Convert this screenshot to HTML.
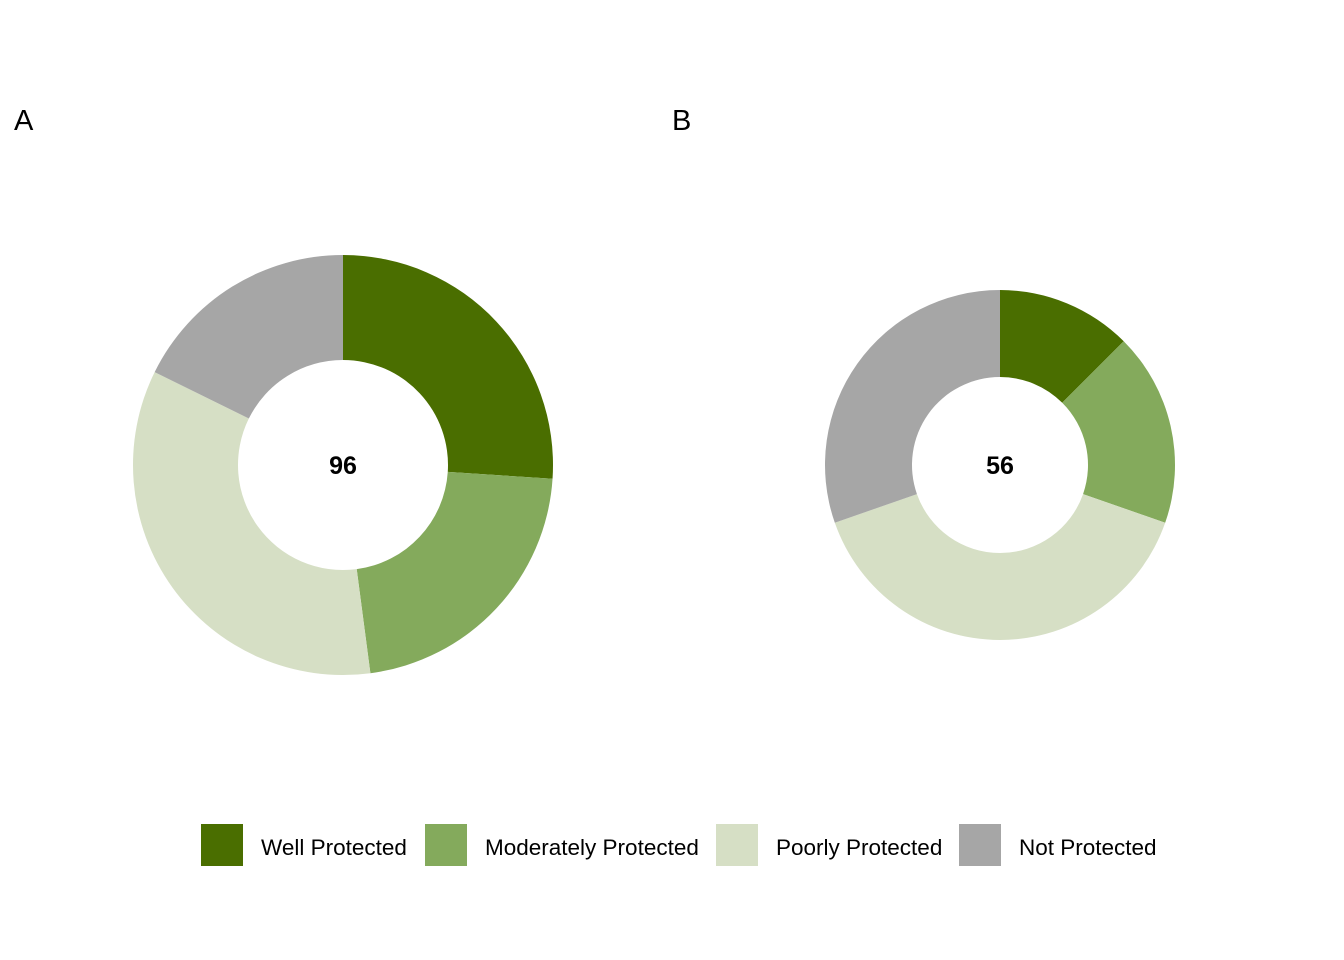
<!DOCTYPE html>
<html><head><meta charset="utf-8"><style>
body{margin:0;background:#fff;}
svg{display:block;font-family:"Liberation Sans",Arial,sans-serif;}
</style></head><body>
<svg id="chart" width="1344" height="960">
<text x="14" y="130" font-size="29">A</text>
<text x="672" y="130" font-size="29">B</text>
<g id="legend"></g>
</svg>
<script>
const categories=["Well Protected","Moderately Protected","Poorly Protected","Not Protected"];
const colors=["#4a6e00","#84aa5c","#d6dfc5","#a6a6a6"];
const valuesA=[25,21,33,17];
const valuesB=[7,10,22,17];
const panels=[{name:"a",vals:valuesA,cx:343,cy:465,ro:210,ri:105},{name:"b",vals:valuesB,cx:1000,cy:465,ro:175,ri:88}];
const svg=document.getElementById('chart');
const NS="http://www.w3.org/2000/svg";
function pt(cx,cy,r,a){return [cx+r*Math.sin(a),cy-r*Math.cos(a)];}
panels.forEach(p=>{
  const total=p.vals.reduce((a,b)=>a+b,0);
  let cum=0;
  p.vals.forEach((v,i)=>{
    const a0=cum/total*2*Math.PI;cum+=v;const a1=cum/total*2*Math.PI;
    const large=(a1-a0)>Math.PI?1:0;
    const [x0,y0]=pt(p.cx,p.cy,p.ro,a0),[x1,y1]=pt(p.cx,p.cy,p.ro,a1);
    const [x2,y2]=pt(p.cx,p.cy,p.ri,a1),[x3,y3]=pt(p.cx,p.cy,p.ri,a0);
    const path=document.createElementNS(NS,'path');
    path.setAttribute('d',`M${x0},${y0}A${p.ro},${p.ro} 0 ${large} 1 ${x1},${y1}L${x2},${y2}A${p.ri},${p.ri} 0 ${large} 0 ${x3},${y3}Z`);
    path.setAttribute('fill',colors[i]);
    
    
    svg.appendChild(path);
  });
  const t=document.createElementNS(NS,'text');
  t.setAttribute('x',p.cx);t.setAttribute('y',p.cy+9);
  t.setAttribute('text-anchor','middle');t.setAttribute('font-size','25');t.setAttribute('font-weight','bold');
  t.textContent=total;
  
  
  svg.appendChild(t);
});
const lg=document.getElementById('legend');
const lx=[201,425,716,959];
categories.forEach((c,i)=>{
  const r=document.createElementNS(NS,'rect');
  r.setAttribute('x',lx[i]);r.setAttribute('y',824);r.setAttribute('width',42);r.setAttribute('height',42);r.setAttribute('fill',colors[i]);
  
  
  lg.appendChild(r);
  const t=document.createElementNS(NS,'text');
  t.setAttribute('x',lx[i]+60);t.setAttribute('y',855);t.setAttribute('font-size','22.5');
  t.textContent=c;
  
  
  lg.appendChild(t);
});
</script>
</body></html>
